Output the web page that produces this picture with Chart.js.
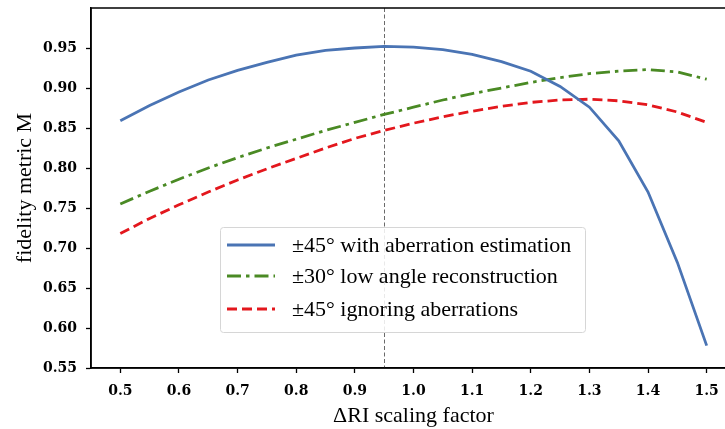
<!DOCTYPE html>
<html>
<head>
<meta charset="utf-8">
<script src="https://cdn.jsdelivr.net/npm/chart.js@4.4.1/dist/chart.umd.min.js"></script>
<style>
  html, body { margin: 0; padding: 0; background: #fff; overflow: hidden; }
  #wrap { width: 740px; height: 429px; }
</style>
</head>
<body>
<div id="wrap"><canvas id="c" width="740" height="429"></canvas></div>
<script>
// Refractive-index scaling factor sampled every 0.05
const scaleFactors = [0.50, 0.55, 0.60, 0.65, 0.70, 0.75, 0.80, 0.85, 0.90, 0.95, 1.00,
                      1.05, 1.10, 1.15, 1.20, 1.25, 1.30, 1.35, 1.40, 1.45, 1.50];

// Fidelity metric M for each reconstruction
const withAberrationEstimation = [0.859, 0.878, 0.895, 0.910, 0.922, 0.932, 0.941, 0.947, 0.950, 0.952, 0.951,
                                  0.948, 0.942, 0.933, 0.921, 0.902, 0.876, 0.834, 0.770, 0.682, 0.578];
const lowAngleReconstruction   = [0.755, 0.771, 0.786, 0.800, 0.813, 0.825, 0.836, 0.847, 0.857, 0.867, 0.876,
                                  0.885, 0.893, 0.900, 0.907, 0.913, 0.918, 0.921, 0.923, 0.920, 0.911];
const ignoringAberrations      = [0.718, 0.737, 0.754, 0.770, 0.785, 0.799, 0.812, 0.825, 0.837, 0.847, 0.856,
                                  0.864, 0.871, 0.877, 0.882, 0.885, 0.886, 0.884, 0.879, 0.870, 0.857];

const seriesLabels = ['±45° with aberration estimation',
                      '±30° low angle reconstruction',
                      '±45° ignoring aberrations'];

const xTicks = [0.5, 0.6, 0.7, 0.8, 0.9, 1.0, 1.1, 1.2, 1.3, 1.4, 1.5];
const yTicks = [0.55, 0.60, 0.65, 0.70, 0.75, 0.80, 0.85, 0.90, 0.95];
const referenceFactor = 0.95;

const SERIF = '"Liberation Serif", "DejaVu Serif", serif';
const TICK_FONT = '"DejaVu Serif", serif';

function pts(ys) { return scaleFactors.map((x, i) => ({ x: x, y: ys[i] })); }

// Full rectangular frame around the plotting area
const framePlugin = {
  id: 'frame',
  afterDraw(chart) {
    const { ctx, chartArea: a } = chart;
    ctx.save();
    ctx.strokeStyle = '#000';
    ctx.lineWidth = 1.5;
    ctx.strokeRect(a.left, a.top, a.right - a.left, a.bottom - a.top);
    ctx.restore();
  }
};

// Dashed vertical marker at the nominal scaling factor
const markerPlugin = {
  id: 'marker',
  beforeDatasetsDraw(chart) {
    const { ctx, chartArea: a, scales } = chart;
    const x = Math.round(scales.x.getPixelForValue(referenceFactor)) + 0.5;
    ctx.save();
    ctx.strokeStyle = '#444';
    ctx.lineWidth = 0.8;
    ctx.setLineDash([4, 2.5]);
    ctx.beginPath();
    ctx.moveTo(x, a.top);
    ctx.lineTo(x, a.bottom);
    ctx.stroke();
    ctx.restore();
  }
};

// Legend box drawn inside the plotting area
const innerLegendPlugin = {
  id: 'innerLegend',
  afterDatasetsDraw(chart) {
    const { ctx } = chart;
    const box = { x: 220.5, y: 227.5, w: 365, h: 105 };
    ctx.save();
    ctx.fillStyle = 'rgba(255,255,255,0.85)';
    ctx.strokeStyle = '#d6d6d6';
    ctx.lineWidth = 1;
    ctx.beginPath();
    ctx.roundRect(box.x, box.y, box.w, box.h, 3);
    ctx.fill();
    ctx.stroke();
    const rows = [245, 276, 309];
    ctx.font = '22px ' + SERIF;
    ctx.textBaseline = 'middle';
    ctx.fillStyle = '#000';
    chart.data.datasets.forEach((ds, i) => {
      const y = rows[i];
      ctx.strokeStyle = ds.borderColor;
      ctx.lineWidth = ds.borderWidth;
      ctx.setLineDash(ds.borderDash || []);
      ctx.beginPath();
      ctx.moveTo(227, y);
      ctx.lineTo(275, y);
      ctx.stroke();
      ctx.setLineDash([]);
      ctx.fillText(ds.label, 292, y + 1);
    });
    ctx.restore();
  }
};

new Chart(document.getElementById('c'), {
  type: 'line',
  data: {
    datasets: [
      { label: seriesLabels[0], data: pts(withAberrationEstimation), borderColor: '#4a74b4',
        borderWidth: 2.8, pointRadius: 0, fill: false, tension: 0 },
      { label: seriesLabels[1], data: pts(lowAngleReconstruction), borderColor: '#4a8a24',
        borderWidth: 2.8, borderDash: [14, 5, 3.5, 5], pointRadius: 0, fill: false, tension: 0 },
      { label: seriesLabels[2], data: pts(ignoringAberrations), borderColor: '#e3171d',
        borderWidth: 2.8, borderDash: [10, 5], pointRadius: 0, fill: false, tension: 0 }
    ]
  },
  options: {
    responsive: false,
    animation: false,
    devicePixelRatio: 1,
    layout: { padding: { top: 8, right: 4, left: 0, bottom: 0 } },
    plugins: { legend: { display: false }, tooltip: { enabled: false } },
    scales: {
      x: {
        type: 'linear',
        min: 0.45,
        max: 1.55,
        afterBuildTicks(scale) { scale.ticks = xTicks.map(v => ({ value: v })); },
        afterFit(scale) { scale.height = 61; scale.paddingLeft = 0; scale.paddingRight = 0; },
        ticks: {
          callback: v => v.toFixed(1),
          font: { family: TICK_FONT, size: 14, weight: 'bold' },
          color: '#000',
          padding: 10,
          maxRotation: 0
        },
        grid: { drawOnChartArea: false, drawTicks: true, tickLength: 5, color: '#000', tickWidth: 1.3 },
        border: { display: true, color: '#000', width: 1.5 },
        title: {
          display: true,
          text: 'ΔRI scaling factor',
          font: { family: SERIF, size: 22 },
          color: '#000',
          padding: { top: 0, bottom: 0 }
        }
      },
      y: {
        type: 'linear',
        min: 0.55,
        max: 1.0,
        afterBuildTicks(scale) { scale.ticks = yTicks.map(v => ({ value: v })); },
        afterFit(scale) { scale.width = 91; scale.paddingTop = 0; scale.paddingBottom = 0; },
        ticks: {
          callback: v => v.toFixed(2),
          font: { family: TICK_FONT, size: 14, weight: 'bold' },
          color: '#000',
          padding: 9
        },
        grid: { drawOnChartArea: false, drawTicks: true, tickLength: 5, color: '#000', tickWidth: 1.3 },
        border: { display: true, color: '#000', width: 1.5 },
        title: {
          display: true,
          text: 'fidelity metric M',
          font: { family: SERIF, size: 22 },
          color: '#000',
          padding: { top: 12, bottom: 0 }
        }
      }
    }
  },
  plugins: [markerPlugin, innerLegendPlugin, framePlugin]
});
</script>
</body>
</html>
